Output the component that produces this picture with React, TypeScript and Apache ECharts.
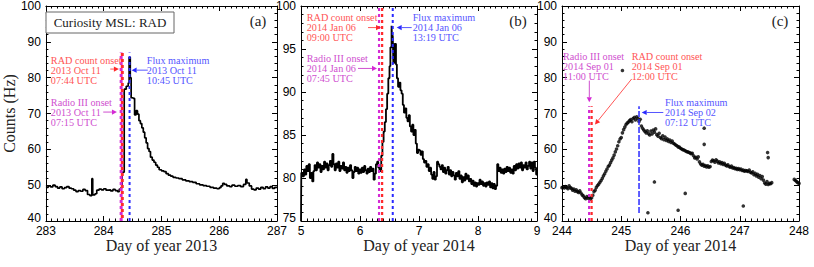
import React, { useEffect, useRef } from "react";
import * as echarts from "echarts";

// ---------- data ----------
// Panel (a): RAD counts, 2013 Oct (step line) [day of year, Hz]
const countsA: [number, number][] = [
  [283.0, 49.4], [283.04, 49.8], [283.08, 49.5], [283.12, 50.0], [283.16, 49.6], [283.2, 49.2],
  [283.24, 49.5], [283.28, 49.0], [283.32, 49.3], [283.36, 49.6], [283.4, 49.2], [283.44, 49.0],
  [283.48, 48.6], [283.52, 48.2], [283.56, 48.5], [283.6, 48.3], [283.64, 48.8], [283.68, 48.5],
  [283.72, 47.4], [283.76, 47.1], [283.795, 51.8], [283.81, 47.3], [283.85, 47.6], [283.88, 48.6],
  [283.92, 48.9], [283.96, 48.7], [284.0, 49.0], [284.04, 48.6], [284.08, 48.7], [284.12, 48.4],
  [284.16, 48.8], [284.2, 48.5], [284.24, 48.2], [284.27, 48.9], [284.3, 49.3], [284.32, 53.6],
  [284.355, 76.8], [284.39, 77.6], [284.425, 78.5], [284.44, 85.7], [284.46, 80.0], [284.475, 74.4],
  [284.51, 74.2], [284.535, 69.6], [284.56, 70.8], [284.585, 69.8], [284.61, 68.0], [284.635, 67.2],
  [284.66, 66.0], [284.685, 64.8], [284.71, 63.2], [284.735, 61.8], [284.76, 60.2], [284.785, 59.4],
  [284.81, 57.8], [284.84, 57.0], [284.87, 56.4], [284.9, 55.6], [284.93, 55.0], [284.96, 54.3],
  [285.0, 54.0], [285.04, 53.8], [285.08, 53.2], [285.12, 52.8], [285.16, 52.5], [285.2, 52.2],
  [285.25, 52.0], [285.3, 51.8], [285.36, 51.5], [285.42, 51.2], [285.48, 51.0], [285.54, 50.8],
  [285.6, 50.4], [285.66, 50.1], [285.72, 49.9], [285.78, 49.7], [285.84, 49.4], [285.9, 49.2],
  [285.96, 49.0], [286.0, 49.3], [286.03, 49.8], [286.06, 50.5], [286.09, 50.2], [286.13, 49.8],
  [286.18, 49.6], [286.22, 50.0], [286.27, 49.7], [286.32, 49.9], [286.37, 49.6], [286.42, 50.2],
  [286.46, 51.6], [286.48, 50.6], [286.52, 49.8], [286.56, 48.9], [286.6, 48.7], [286.64, 49.2],
  [286.68, 48.9], [286.72, 49.4], [286.76, 49.0], [286.8, 49.5], [286.84, 49.2], [286.88, 49.6],
  [286.92, 49.1], [286.96, 49.4], [287.0, 49.2],
];

// Panel (b): RAD counts, 2014 Jan (step line)
const countsB: [number, number][] = [
  [5.0, 75.0], [5.005, 80.6], [5.03, 80.2], [5.05, 81.0], [5.07, 80.4], [5.09, 81.4], [5.11, 80.8],
  [5.13, 81.6], [5.15, 80.0], [5.17, 80.6], [5.19, 79.6], [5.21, 80.8], [5.23, 81.5], [5.25, 80.9],
  [5.27, 81.8], [5.29, 81.2], [5.31, 81.6], [5.33, 80.7], [5.35, 81.4], [5.37, 81.0], [5.39, 81.9],
  [5.41, 81.2], [5.43, 81.7], [5.45, 80.9], [5.47, 81.5], [5.49, 82.0], [5.51, 81.3], [5.53, 82.8],
  [5.55, 81.6], [5.57, 80.9], [5.59, 81.7], [5.61, 81.2], [5.63, 81.9], [5.65, 80.8], [5.67, 81.4],
  [5.69, 81.1], [5.71, 81.8], [5.73, 80.9], [5.75, 81.3], [5.77, 80.6], [5.79, 81.2], [5.81, 80.8],
  [5.83, 81.5], [5.85, 80.9], [5.87, 80.0], [5.89, 80.7], [5.91, 81.3], [5.93, 80.8], [5.95, 81.2],
  [5.97, 80.5], [5.99, 81.0], [6.01, 80.6], [6.03, 81.2], [6.05, 80.7], [6.07, 81.4], [6.09, 80.9],
  [6.11, 80.5], [6.13, 81.1], [6.15, 80.7], [6.17, 81.3], [6.19, 80.8], [6.21, 81.1], [6.23, 79.8],
  [6.25, 80.5], [6.27, 81.6], [6.29, 81.9], [6.31, 81.2], [6.33, 80.8], [6.36, 82.6], [6.38, 84.2],
  [6.4, 85.4], [6.42, 86.5], [6.44, 88.0], [6.46, 89.8], [6.48, 91.6], [6.5, 93.0], [6.515, 95.2],
  [6.535, 97.7], [6.545, 95.8], [6.555, 96.6], [6.565, 93.4], [6.585, 95.6], [6.61, 93.2],
  [6.625, 91.6], [6.645, 90.6], [6.665, 91.1], [6.685, 90.2], [6.705, 89.8], [6.725, 88.5],
  [6.745, 87.6], [6.765, 88.1], [6.785, 87.0], [6.805, 86.6], [6.825, 87.3], [6.845, 86.0],
  [6.865, 85.4], [6.885, 86.2], [6.905, 85.0], [6.925, 85.6], [6.945, 84.0], [6.965, 82.9],
  [6.985, 83.3], [7.005, 83.2], [7.025, 82.7], [7.045, 83.1], [7.065, 82.2], [7.085, 81.8],
  [7.105, 82.0], [7.125, 81.3], [7.145, 81.6], [7.165, 80.8], [7.185, 81.2], [7.205, 80.4],
  [7.225, 79.9], [7.245, 80.7], [7.265, 79.8], [7.285, 80.2], [7.305, 81.9], [7.325, 81.6],
  [7.345, 81.3], [7.365, 81.0], [7.385, 81.5], [7.405, 80.7], [7.425, 81.2], [7.445, 80.5],
  [7.465, 80.9], [7.485, 81.3], [7.505, 80.4], [7.525, 80.9], [7.545, 80.2], [7.565, 80.7],
  [7.585, 80.3], [7.605, 79.8], [7.625, 80.6], [7.645, 80.2], [7.665, 80.8], [7.685, 79.9],
  [7.705, 80.3], [7.725, 79.5], [7.745, 80.1], [7.765, 79.7], [7.785, 80.5], [7.805, 79.9],
  [7.825, 80.3], [7.845, 79.6], [7.865, 79.9], [7.885, 79.3], [7.905, 79.7], [7.925, 79.1],
  [7.945, 79.5], [7.965, 79.0], [7.985, 79.4], [8.005, 79.2], [8.025, 79.8], [8.045, 79.3],
  [8.065, 79.6], [8.085, 79.1], [8.105, 79.4], [8.125, 79.0], [8.145, 79.5], [8.165, 79.2],
  [8.185, 79.6], [8.205, 78.9], [8.225, 79.4], [8.245, 78.8], [8.265, 79.3], [8.285, 78.7],
  [8.305, 79.1], [8.325, 81.6], [8.345, 80.8], [8.365, 81.2], [8.385, 80.6], [8.405, 81.0],
  [8.425, 80.5], [8.445, 81.1], [8.465, 80.7], [8.485, 81.3], [8.505, 80.8], [8.525, 81.2],
  [8.545, 80.6], [8.565, 81.0], [8.585, 80.5], [8.605, 81.4], [8.625, 80.9], [8.645, 81.6],
  [8.665, 81.1], [8.685, 81.7], [8.705, 81.2], [8.725, 81.8], [8.745, 80.9], [8.765, 81.5],
  [8.785, 81.2], [8.805, 81.8], [8.825, 81.0], [8.845, 81.4], [8.865, 81.9], [8.885, 81.1],
  [8.905, 81.8], [8.925, 80.8], [8.945, 81.9], [8.965, 81.2], [8.985, 80.4], [9.0, 80.4],
];

// Panel (c): RAD counts, 2014 Sep (points)
const countsC: [number, number][] = [
  [244.0, 49.3], [244.02, 49.5], [244.04, 49.2], [244.06, 49.6], [244.08, 49.4], [244.1, 49.0],
  [244.12, 49.8], [244.14, 49.3], [244.16, 49.1], [244.18, 48.6], [244.2, 48.9], [244.22, 48.3],
  [244.24, 48.7], [244.26, 48.2], [244.28, 48.0], [244.3, 48.4], [244.32, 47.8], [244.34, 47.3],
  [244.36, 47.0], [244.38, 46.5], [244.4, 46.2], [244.42, 46.8], [244.44, 46.4], [244.46, 46.7],
  [244.48, 46.1], [244.5, 46.5], [244.52, 47.2], [244.54, 48.2], [244.56, 48.6], [244.58, 49.4],
  [244.6, 49.9], [244.62, 50.3], [244.64, 50.8], [244.66, 51.3], [244.68, 51.9], [244.7, 52.6],
  [244.72, 53.2], [244.74, 53.9], [244.76, 54.5], [244.78, 55.2], [244.8, 55.6], [244.82, 56.3],
  [244.84, 57.0], [244.86, 57.6], [244.88, 58.4], [244.9, 59.3], [244.92, 60.1], [244.94, 61.0],
  [244.96, 62.1], [244.98, 62.9], [245.0, 63.3], [245.02, 64.6], [245.04, 65.5], [245.06, 66.2],
  [245.08, 66.9], [245.1, 67.3], [245.12, 67.6], [245.14, 68.0], [245.16, 68.3], [245.18, 67.7],
  [245.2, 68.6], [245.22, 68.9], [245.24, 68.2], [245.26, 69.1], [245.28, 68.6], [245.3, 67.8],
  [245.32, 68.4], [245.34, 66.5], [245.36, 65.9], [245.38, 65.4], [245.4, 65.0], [245.42, 64.6],
  [245.44, 65.2], [245.46, 64.4], [245.48, 64.0], [245.5, 65.1], [245.52, 64.3], [245.54, 65.4],
  [245.56, 64.8], [245.58, 65.7], [245.6, 64.1], [245.62, 63.7], [245.64, 64.5], [245.66, 63.3],
  [245.68, 63.0], [245.7, 63.8], [245.72, 62.7], [245.74, 63.4], [245.76, 62.5], [245.78, 62.9],
  [245.8, 62.2], [245.82, 62.6], [245.84, 61.9], [245.86, 62.3], [245.88, 61.7], [245.9, 61.5],
  [245.92, 61.2], [245.94, 61.0], [245.96, 60.7], [245.98, 60.6], [246.0, 60.3], [246.02, 60.1],
  [246.04, 59.9], [246.06, 59.8], [246.08, 59.6], [246.1, 59.4], [246.12, 59.3], [246.14, 59.2],
  [246.16, 59.0], [246.18, 58.8], [246.2, 58.9], [246.22, 58.2], [246.24, 57.6], [246.26, 57.8],
  [246.28, 57.3], [246.3, 57.9], [246.32, 56.5], [246.34, 55.9], [246.36, 55.6], [246.38, 55.8],
  [246.4, 55.3], [246.42, 55.5], [246.44, 55.1], [246.46, 55.4], [246.48, 55.0], [246.5, 55.2],
  [246.52, 56.6], [246.54, 57.0], [246.56, 56.8], [246.58, 56.4], [246.6, 57.1], [246.62, 56.7],
  [246.64, 56.2], [246.66, 56.5], [246.68, 56.0], [246.7, 56.3], [246.72, 55.8], [246.74, 56.1],
  [246.76, 55.6], [246.78, 55.4], [246.8, 55.7], [246.82, 55.2], [246.84, 55.0], [246.86, 55.3],
  [246.88, 54.8], [246.9, 54.9], [246.92, 54.6], [246.94, 54.7], [246.96, 54.4], [246.98, 54.6],
  [247.0, 54.3], [247.02, 54.5], [247.04, 54.1], [247.06, 54.2], [247.08, 53.9], [247.1, 54.1],
  [247.12, 54.0], [247.14, 53.8], [247.16, 54.2], [247.18, 53.6], [247.2, 53.4], [247.22, 53.7],
  [247.24, 52.9], [247.26, 53.3], [247.28, 52.6], [247.3, 53.0], [247.32, 52.2], [247.34, 52.7],
  [247.36, 51.8], [247.38, 52.4], [247.4, 51.4], [247.42, 50.6], [247.44, 50.3], [247.46, 51.0],
  [247.48, 50.2], [247.5, 50.5], [247.52, 50.4], [247.54, 50.7], [247.92, 51.6], [247.94, 51.3],
  [247.96, 51.0], [247.98, 50.7], [248.0, 50.5],
  // isolated points
  [245.02, 82.0], [245.45, 42.3], [245.56, 50.9], [245.96, 43.0], [246.08, 47.7], [246.4, 65.9],
  [246.4, 61.4], [247.06, 44.2], [247.47, 59.1], [247.48, 57.7],
];

// Axis ranges / tick steps
const xRanges: [number, number][] = [[283, 287], [5, 9], [244, 248]];
const yRanges: [number, number][] = [[40, 100], [75, 100], [40, 100]];
const yIntervals = [10, 5, 10];
const xNames = ["Day of year 2013", "Day of year 2014", "Day of year 2014"];
const panelTags = ["(a)", "(b)", "(c)"];

// Event times (day of year) and vertical extent of the marker lines
const events = [
  { panel: 0, kind: "radio", t: 284.302, y: [40, 87] },
  { panel: 0, kind: "rad", t: 284.322, y: [40, 87] },
  { panel: 0, kind: "flux", t: 284.448, y: [40, 87] },
  { panel: 1, kind: "radio", t: 6.323, y: [75, 100] },
  { panel: 1, kind: "rad", t: 6.375, y: [75, 100] },
  { panel: 1, kind: "flux", t: 6.555, y: [75, 100] },
  { panel: 2, kind: "radio", t: 244.458, y: [40, 72] },
  { panel: 2, kind: "rad", t: 244.5, y: [40, 72] },
  { panel: 2, kind: "flux", t: 245.3, y: [42.2, 72] },
];

// Annotations (data coordinates): text anchor (left, middle) and arrow from -> to
const annotations = [
  { panel: 0, kind: "rad", lines: ["RAD count onset", "2013 Oct 11", "07:44 UTC"], at: [283.085, 81.9], from: [284.114, 82.4], to: [284.263, 82.4] },
  { panel: 0, kind: "radio", lines: ["Radio III onset", "2013 Oct 11", "07:15 UTC"], at: [283.085, 70.3], from: [283.992, 70.4], to: [284.229, 70.4] },
  { panel: 0, kind: "flux", lines: ["Flux maximum", "2013 Oct 11", "10:45 UTC"], at: [284.746, 81.9], from: [284.763, 82.1], to: [284.483, 82.1] },
  { panel: 1, kind: "rad", lines: ["RAD count onset", "2014 Jan 06", "09:00 UTC"], at: [5.097, 97.45], from: [6.136, 97.49], to: [6.356, 97.49] },
  { panel: 1, kind: "radio", lines: ["Radio III onset", "2014 Jan 06", "07:45 UTC"], at: [5.097, 92.77], from: [5.966, 92.74], to: [6.288, 92.74] },
  { panel: 1, kind: "flux", lines: ["Flux maximum", "2014 Jan 06", "13:19 UTC"], at: [6.893, 97.45], from: [6.876, 97.49], to: [6.622, 97.49] },
  { panel: 2, kind: "radio", lines: ["Radio III onset", "2014 Sep 01", "11:00 UTC"], at: [244.017, 83.06], from: [244.461, 79.17], to: [244.461, 73.14] },
  { panel: 2, kind: "rad", lines: ["RAD count onset", "2014 Sep 01", "12:00 UTC"], at: [245.176, 83.06], from: [245.176, 79.64], to: [244.557, 66.94] },
  { panel: 2, kind: "flux", lines: ["Flux maximum", "2014 Sep 02", "07:12 UTC"], at: [245.738, 70.28], from: [245.71, 70.28], to: [245.345, 70.28] },
];

// ---------- styling ----------
const lineColors: Record<string, string> = { radio: "#d42ad4", rad: "#ff2a2a", flux: "#2a2aff" };
const textColors: Record<string, string> = { radio: "#cf4fcf", rad: "#ff5555", flux: "#5555ff" };
const SERIF = '"Liberation Serif", "Times New Roman", serif';
const SANS = '"Liberation Sans", Arial, sans-serif';
const grids = [
  { left: 41, top: 5, width: 236, height: 216 },
  { left: 301, top: 5, width: 236, height: 216 },
  { left: 562, top: 5, width: 237, height: 216 },
];

export default function App() {
  const ref = useRef<HTMLDivElement>(null);

  useEffect(() => {
    if (!ref.current) return;
    const chart = echarts.init(ref.current, undefined, { renderer: "svg" });

    const axisLine = { show: true, onZero: false, lineStyle: { color: "#000", width: 1 } };
    const xAxis: any[] = [];
    const yAxis: any[] = [];
    for (const pos of ["bottom", "top"]) {
      xRanges.forEach((r, i) => {
        xAxis.push({
          type: "value", gridIndex: i, position: pos, min: r[0], max: r[1], interval: 1,
          axisLine,
          axisTick: { show: true, inside: true, length: 5, lineStyle: { color: "#000" } },
          minorTick: { show: true, splitNumber: 10, length: 2.5, lineStyle: { color: "#000" } },
          splitLine: { show: false },
          axisLabel: pos === "bottom"
            ? { show: true, margin: 5, color: "#000", fontSize: 12, fontFamily: SANS, lineHeight: 10 }
            : { show: false },
          name: pos === "bottom" ? xNames[i] : "",
          nameLocation: "middle", nameGap: 17, nameMoveOverlap: false,
          nameTextStyle: { color: "#222", fontSize: 16, fontFamily: SERIF, verticalAlign: "top", lineHeight: 14 },
        });
      });
    }
    for (const pos of ["left", "right"]) {
      yRanges.forEach((r, i) => {
        const lo = r[0];
        yAxis.push({
          type: "value", gridIndex: i, position: pos, min: r[0], max: r[1], interval: yIntervals[i],
          axisLine,
          axisTick: { show: true, inside: true, length: 5, lineStyle: { color: "#000" } },
          minorTick: { show: true, splitNumber: 5, length: 2.5, lineStyle: { color: "#000" } },
          splitLine: { show: false },
          axisLabel: pos === "left"
            ? {
                show: true, margin: 5, color: "#000", fontSize: 12, fontFamily: SANS, lineHeight: 8,
                formatter: (v: number) => (v === lo ? `{lo|${v}}` : String(v)),
                rich: { lo: { color: "#000", fontSize: 12, fontFamily: SANS, lineHeight: 8, padding: [0, 0, 6, 0] } },
              }
            : { show: false },
          name: pos === "left" && i === 0 ? "Counts (Hz)" : "",
          nameLocation: "middle", nameGap: 24, nameRotate: 90,
          nameTextStyle: { color: "#222", fontSize: 16, fontFamily: SERIF },
        });
      });
    }

    const series: any[] = [
      { type: "line", xAxisIndex: 0, yAxisIndex: 0, data: countsA, step: "end", showSymbol: false, lineStyle: { color: "#000", width: 1.7 }, z: 2 },
      { type: "line", xAxisIndex: 1, yAxisIndex: 1, data: countsB, step: "end", showSymbol: false, lineStyle: { color: "#000", width: 1.8 }, z: 2 },
      { type: "scatter", xAxisIndex: 2, yAxisIndex: 2, data: countsC, symbol: "circle", symbolSize: 3.6, itemStyle: { color: "#000" }, z: 2 },
    ];
    events.forEach((e) => {
      const isFlux = e.kind === "flux";
      const overlapA = e.panel === 0 && e.kind === "rad";
      series.push({
        type: "line", xAxisIndex: e.panel, yAxisIndex: e.panel,
        data: [[e.t, e.y[0]], [e.t, e.y[1]]], showSymbol: false, silent: true,
        lineStyle: {
          color: lineColors[e.kind],
          width: isFlux ? (e.panel === 2 ? 1.5 : 2) : (e.panel === 0 ? 3 : 2.2),
          type: isFlux ? (e.panel === 2 ? [6, 2] : [3, 3]) : [3, 3],
          dashOffset: overlapA ? 3 : 0,
        },
        z: 3,
      });
    });

    chart.setOption({
      animation: false,
      backgroundColor: "#fff",
      grid: grids.map((g) => ({ ...g, containLabel: false })),
      xAxis, yAxis, series,
    });

    // Annotations built through the library's coordinate conversion
    const graphic: any[] = [];
    const toPx = (panel: number, p: number[]) =>
      chart.convertToPixel({ seriesIndex: panel } as any, p) as number[];

    annotations.forEach((a) => {
      const at = toPx(a.panel, a.at);
      a.lines.forEach((ln, k) => {
        graphic.push({
          type: "text", x: at[0], y: at[1] + (k - 1) * 10, z: 10,
          style: {
            text: ln, fill: textColors[a.kind], fontSize: 10.2, fontFamily: SERIF,
            align: "left", verticalAlign: "middle", lineHeight: 9.5,
          },
        });
      });
      const f = toPx(a.panel, a.from);
      const t = toPx(a.panel, a.to);
      const dx = t[0] - f[0], dy = t[1] - f[1];
      const len = Math.hypot(dx, dy) || 1;
      const ux = dx / len, uy = dy / len;
      const hl = 5, hw = 2.6;
      const bx = t[0] - ux * hl, by = t[1] - uy * hl;
      graphic.push({
        type: "line", z: 10,
        shape: { x1: f[0], y1: f[1], x2: bx, y2: by },
        style: { stroke: textColors[a.kind], lineWidth: 1 },
      });
      graphic.push({
        type: "polygon", z: 10,
        shape: { points: [[t[0], t[1]], [bx - uy * hw, by + ux * hw], [bx + uy * hw, by - ux * hw]] },
        style: { fill: lineColors[a.kind] },
      });
    });

    // Legend box in panel (a)
    graphic.push({
      type: "rect", z: 10,
      shape: { x: grids[0].left + 5, y: grids[0].top + 7, width: 128, height: 21 },
      style: { fill: "#fff", stroke: "#666", lineWidth: 1 },
    });
    graphic.push({
      type: "text", z: 11, x: grids[0].left + 69, y: grids[0].top + 17.5,
      style: { text: "Curiosity MSL: RAD", fill: "#222", fontSize: 13, fontFamily: SERIF, align: "center", verticalAlign: "middle" },
    });
    // Panel tags
    grids.forEach((g, i) => {
      graphic.push({
        type: "text", z: 11, x: g.left + g.width - 19, y: g.top + 16,
        style: { text: panelTags[i], fill: "#222", fontSize: 15, fontFamily: SERIF, align: "center", verticalAlign: "middle" },
      });
    });

    chart.setOption({ graphic });

    return () => chart.dispose();
  }, []);

  return (
    <div
      ref={ref}
      style={{ position: "absolute", left: 0, top: 0, width: 814, height: 267, background: "#fff" }}
    />
  );
}
